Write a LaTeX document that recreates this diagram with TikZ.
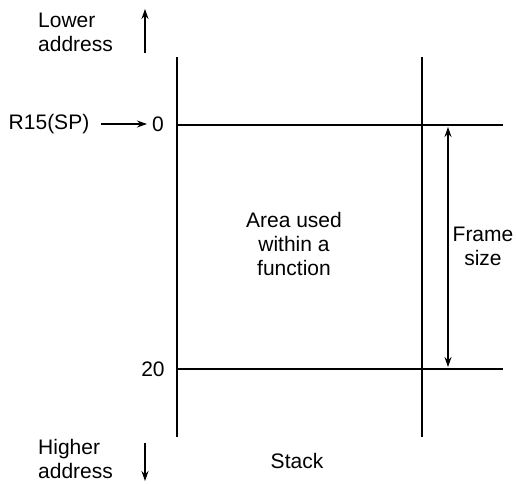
\documentclass[tikz,border=0pt]{standalone}
\usepackage{fontspec}
\setmainfont{Liberation Sans}
\usetikzlibrary{arrows.meta,positioning}

\begin{document}
\begin{tikzpicture}[x=1pt, y=-1pt,
  txt/.style={font=\fontsize{21}{24}\selectfont, align=center, inner sep=0pt},
  rule/.style={line width=1.1pt},
  arr/.style={-{Stealth[length=10pt, width=7pt]}, line width=1.1pt}
]
  \useasboundingbox (0,0) rectangle (516,483);

  % stack frame
  \coordinate (lt) at (177,57);
  \coordinate (lb) at (177,437);
  \coordinate (rt) at (422,57);
  \coordinate (rb) at (422,437);
  \coordinate (h0a) at (177,125);
  \coordinate (h0b) at (503,125);
  \coordinate (h20a) at (177,369);
  \coordinate (h20b) at (503,369);
  \draw[rule] (lt) -- (lb);
  \draw[rule] (rt) -- (rb);
  \draw[rule] (h0a) -- (h0b);
  \draw[rule] (h20a) -- (h20b);

  \node[txt] (area) at (294,244) {Area used\\within a\\function};
  \node[txt] (stack) at (297,461) {Stack};
  \node[txt] (zero) at (158,124) {0};
  \node[txt] (twenty) at (153,369) {20};
  \node[txt] (sp) at (49,124) {R15(SP)};
  \draw[arr, shorten <=12pt, shorten >=5pt] (sp) -- (zero);

  % frame size
  \coordinate (fa) at (448,127);
  \coordinate (fb) at (448,367);
  \draw[arr, {Stealth[length=10pt, width=7pt]}-{Stealth[length=10pt, width=7pt]}] (fa) -- (fb);
  \node[txt] (frame) at (483,246) {Frame\\size};

  % address direction
  \node[txt, align=left, anchor=west] (lower) at (38,32) {Lower\\address};
  \node[txt, align=left, anchor=west] (higher) at (38,459) {Higher\\address};
  \coordinate (ua) at (145,53);
  \coordinate (ub) at (145,9);
  \coordinate (da) at (145,443);
  \coordinate (db) at (145,481);
  \draw[arr] (ua) -- (ub);
  \draw[arr] (da) -- (db);
\end{tikzpicture}
\end{document}
